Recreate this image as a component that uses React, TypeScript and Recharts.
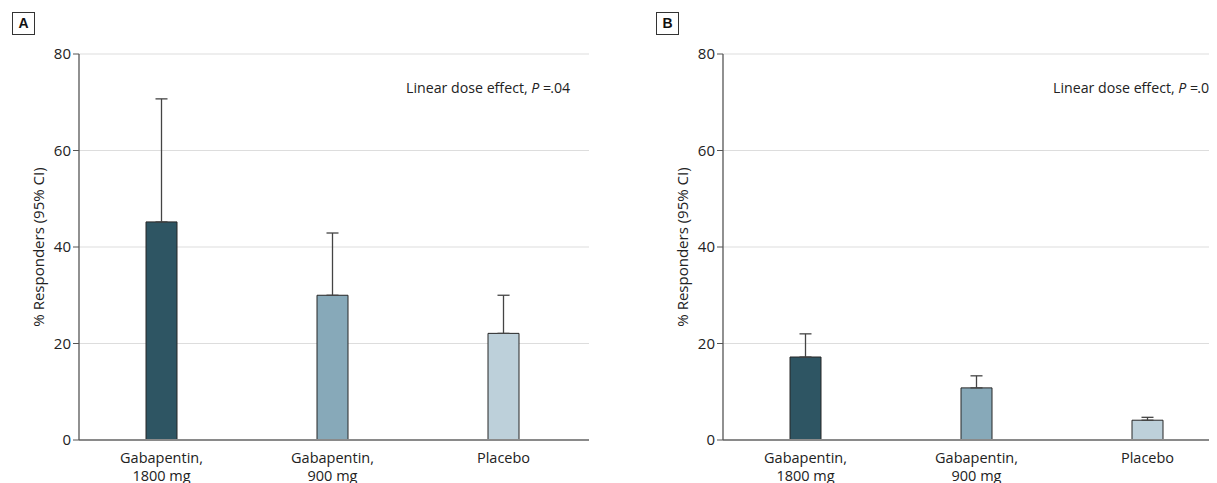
import React from 'react';
import { ComposedChart, Bar, XAxis, YAxis, CartesianGrid, ErrorBar, Cell, Customized } from 'recharts';

const categories = ['Gabapentin,\n1800 mg', 'Gabapentin,\n900 mg', 'Placebo'];
const panelAValues = [45.2, 30.0, 22.1];
const panelAUpper = [70.7, 42.9, 30.0];
const panelBValues = [17.2, 10.8, 4.1];
const panelBUpper = [22.0, 13.3, 4.7];
const barColors = ['#2E5563', '#87A9B9', '#BDD0DA'];
const yTicks = [0, 20, 40, 60, 80];
const yLabel = '% Responders (95% CI)';
const panelLetters = ['A', 'B'];
const pValues = ['.04', '.02'];

const LABEL_FONT = "'Open Sans', sans-serif";

function XTick(props: any) {
  const { x, y, payload } = props;
  const lines = String(payload.value).split('\n');
  return (
    <g transform={`translate(${x},${y})`}>
      <text textAnchor="middle" fill="#222" fontSize={14.5} fontFamily={LABEL_FONT}>
        {lines.map((l: string, i: number) => (
          <tspan key={i} x={0} dy={i === 0 ? 15 : 17.5}>{l}</tspan>
        ))}
      </text>
    </g>
  );
}

function Panel({ values, upper, letter, pValue, left, textX }: any) {
  const data = categories.map((c, i) => ({ name: c, value: values[i], err: [0, upper[i] - values[i]] }));
  return (
    <div style={{ position: 'absolute', left, top: 0, width: 643, height: 475 }}>
      <div
        style={{
          position: 'absolute', left: 4, top: 4, width: 21, height: 21, border: '1px solid #333',
          fontFamily: "'Liberation Sans', Arial, sans-serif", fontWeight: 'bold', fontSize: 14,
          lineHeight: '21px', textAlign: 'center', color: '#111',
        }}
      >
        {letter}
      </div>
      <ComposedChart width={643} height={475} data={data} margin={{ top: 46, right: 62, bottom: 13, left: 0 }}>
        <CartesianGrid vertical={false} stroke="#dddddd" />
        <XAxis
          dataKey="name"
          tickLine={false}
          axisLine={{ stroke: '#8a8a8a', strokeWidth: 2 }}
          height={30}
          tick={<XTick />}
          interval={0}
          padding={{ left: -3, right: 0 }}
        />
        <YAxis
          domain={[0, 80]}
          ticks={yTicks}
          width={71}
          tickSize={6}
          axisLine={{ stroke: '#555', strokeWidth: 1.3 }}
          tickLine={{ stroke: '#555' }}
          tick={{ fill: '#222', fontSize: 15, fontFamily: LABEL_FONT }}
        />
        <Bar dataKey="value" barSize={31} stroke="#262626" strokeWidth={1} isAnimationActive={false}>
          {data.map((d, i) => (
            <Cell key={d.name} fill={barColors[i]} />
          ))}
          <ErrorBar dataKey="err" width={6} stroke="#444" strokeWidth={1.3} direction="y" />
        </Bar>
        <Customized
          component={() => (
            <g>
              <text
                transform="translate(30,239) rotate(-90)"
                textAnchor="middle"
                dominantBaseline="central"
                fontSize={15}
                fontFamily={LABEL_FONT}
                fill="#222"
              >
                {yLabel}
              </text>
              <text x={textX} y={85} fontSize={14.2} fontFamily={LABEL_FONT} fill="#222">
                Linear dose effect, <tspan fontStyle="italic">P</tspan> =<tspan dx={-1}>{pValue}</tspan>
              </text>
            </g>
          )}
        />
      </ComposedChart>
    </div>
  );
}

export default function App() {
  return (
    <div style={{ position: 'relative', width: 1209, height: 475, overflow: 'hidden', background: '#fff' }}>
      <Panel values={panelAValues} upper={panelAUpper} letter={panelLetters[0]} pValue={pValues[0]} left={0} textX={398} />
      <Panel values={panelBValues} upper={panelBUpper} letter={panelLetters[1]} pValue={pValues[1]} left={644} textX={401} />
    </div>
  );
}
